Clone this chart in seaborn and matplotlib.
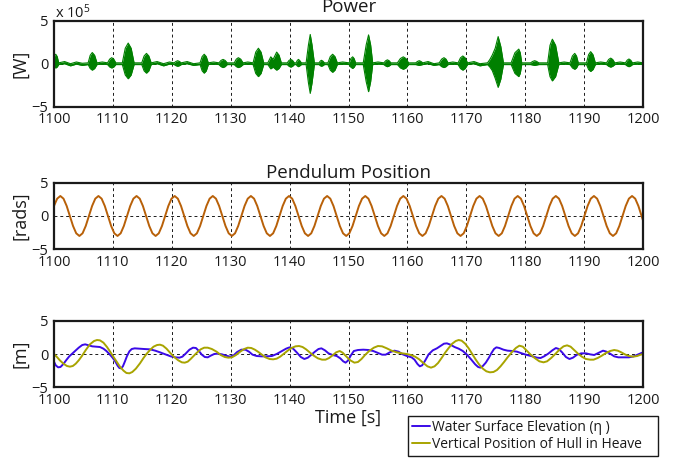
import numpy as np
import pandas as pd
import seaborn as sns
import matplotlib.pyplot as plt

# ---------------------------------------------------------------
# Data (time in s)
# ---------------------------------------------------------------
time_ticks = list(range(1100, 1201, 10))
y_ticks = [-5, 0, 5]

# Power [x 10^5 W]: envelope of the fast oscillation (upper / lower), one burst per row
power_t = [1100.0, 1100.3, 1100.55, 1100.8, 1101.8, 1102.8, 1103.8, 1104.8,
           1105.8, 1106.15, 1106.5, 1106.9, 1107.3, 1108.2,
           1109.1, 1109.45, 1109.8, 1110.15, 1110.5,
           1111.6, 1112.1, 1112.6, 1113.1, 1113.6,
           1114.9, 1115.3, 1115.7, 1116.1, 1116.5, 1117.5, 1118.6, 1119.6,
           1120.4, 1120.7, 1121.0, 1121.3, 1121.6, 1122.6, 1123.7,
           1124.8, 1125.15, 1125.5, 1125.85, 1126.2, 1127.1,
           1128.0, 1128.35, 1128.7, 1129.05, 1129.4,
           1130.6, 1130.95, 1131.3, 1131.7, 1132.1, 1132.9,
           1133.8, 1134.25, 1134.7, 1135.15, 1135.6,
           1136.3, 1136.8, 1137.2, 1137.8, 1138.2, 1138.6,
           1139.6, 1139.9, 1140.2, 1140.5, 1140.8,
           1141.1, 1141.3, 1141.5, 1141.7, 1142.0,
           1142.8, 1143.2, 1143.5, 1143.8, 1144.2,
           1145.0, 1145.2, 1145.4, 1145.65, 1145.9,
           1146.5, 1146.9, 1147.3, 1147.7, 1148.1, 1149.0,
           1150.1, 1150.4, 1150.7, 1150.95, 1151.2,
           1152.5, 1153.0, 1153.4, 1153.75, 1154.1, 1155.0,
           1156.0, 1156.3, 1156.6, 1156.9, 1157.2,
           1158.3, 1158.8, 1159.3, 1159.75, 1160.2,
           1161.4, 1161.7, 1162.0, 1162.3, 1162.6, 1163.5, 1164.5,
           1165.4, 1165.8, 1166.2, 1166.55, 1166.9, 1167.7,
           1168.6, 1169.0, 1169.4, 1169.8, 1170.2, 1171.3, 1172.3,
           1173.6, 1174.0, 1174.4, 1174.9, 1175.4, 1175.85, 1176.3,
           1177.6, 1178.25, 1178.9, 1179.15, 1179.4,
           1180.9, 1181.25, 1181.6, 1181.95, 1182.3,
           1183.8, 1184.2, 1184.6, 1185.15, 1185.7, 1186.6,
           1187.6, 1188.0, 1188.4, 1188.7, 1189.0,
           1190.4, 1190.75, 1191.1, 1191.5, 1191.9, 1192.8,
           1193.8, 1194.15, 1194.5, 1194.85, 1195.2, 1196.1,
           1197.0, 1197.3, 1197.6, 1197.9, 1198.2, 1199.1, 1200.0]
power_hi = [0.8, 1.1, 0.83, 0.1, 0.25, 0.0, 0.2, 0.05,
            0.1, 0.98, 1.3, 0.98, 0.1, 0.2,
            0.1, 0.53, 0.7, 0.53, 0.1,
            0.1, 1.8, 2.4, 1.8, 0.1,
            0.1, 0.9, 1.2, 0.9, 0.1, 0.25, 0.0, 0.2,
            0.1, 0.26, 0.35, 0.26, 0.1, 0.25, 0.0,
            0.1, 0.83, 1.1, 0.83, 0.1, 0.2,
            0.1, 0.38, 0.5, 0.38, 0.1,
            0.1, 0.53, 0.7, 0.53, 0.1, 0.2,
            0.1, 1.35, 1.8, 1.35, 0.1,
            0.1, 0.8, 0.5, 1.35, 1.0, 0.1,
            0.1, 0.38, 0.5, 0.38, 0.1,
            0.1, 0.38, 0.5, 0.38, 0.1,
            0.1, 2.2, 3.4, 2.2, 0.1,
            0.1, 0.3, 0.4, 0.3, 0.1,
            0.1, 0.83, 1.1, 0.83, 0.1, 0.2,
            0.1, 0.6, 0.8, 0.6, 0.1,
            0.1, 2.2, 3.35, 2.2, 0.1, 0.2,
            0.1, 0.34, 0.45, 0.34, 0.1,
            0.1, 0.6, 0.8, 0.6, 0.1,
            0.1, 0.26, 0.35, 0.26, 0.1, 0.25, 0.0,
            0.1, 0.53, 0.7, 0.53, 0.1, 0.2,
            0.1, 0.68, 0.9, 0.68, 0.1, 0.25, 0.0,
            0.1, 0.5, 1.0, 1.8, 3.15, 2.0, 0.1,
            0.1, 1.28, 1.7, 1.28, 0.1,
            0.1, 0.26, 0.35, 0.26, 0.1,
            0.1, 2.14, 2.85, 2.14, 0.1, 0.2,
            0.1, 0.9, 1.2, 0.9, 0.1,
            0.1, 1.05, 1.4, 1.05, 0.1, 0.2,
            0.1, 0.49, 0.65, 0.49, 0.1, 0.2,
            0.1, 0.41, 0.55, 0.41, 0.1, 0.2, 0.1]
power_lo = [-0.35, -0.5, -0.38, -0.1, 0.0, -0.25, -0.05, -0.2,
            -0.1, -0.56, -0.75, -0.56, -0.1, -0.05,
            -0.1, -0.38, -0.5, -0.38, -0.1,
            -0.1, -1.31, -1.75, -1.31, -0.1,
            -0.1, -0.83, -1.1, -0.83, -0.1, 0.0, -0.25, -0.05,
            -0.1, -0.23, -0.3, -0.23, -0.1, 0.0, -0.2,
            -0.1, -0.83, -1.1, -0.83, -0.1, -0.05,
            -0.1, -0.34, -0.45, -0.34, -0.1,
            -0.1, -0.34, -0.45, -0.34, -0.1, -0.05,
            -0.1, -1.13, -1.5, -1.13, -0.1,
            -0.1, -0.6, -0.4, -0.75, -0.56, -0.1,
            -0.1, -0.3, -0.4, -0.3, -0.1,
            -0.1, -0.26, -0.35, -0.26, -0.1,
            -0.1, -2.25, -3.45, -2.25, -0.1,
            -0.1, -0.23, -0.3, -0.23, -0.1,
            -0.1, -0.75, -1.0, -0.75, -0.1, -0.05,
            -0.1, -0.41, -0.55, -0.41, -0.1,
            -0.1, -2.1, -3.25, -2.1, -0.1, -0.05,
            -0.1, -0.26, -0.35, -0.26, -0.1,
            -0.1, -0.49, -0.65, -0.49, -0.1,
            -0.1, -0.15, -0.2, -0.15, -0.1, 0.0, -0.2,
            -0.1, -0.34, -0.45, -0.34, -0.1, -0.05,
            -0.1, -0.56, -0.75, -0.56, -0.1, 0.0, -0.25,
            -0.1, -0.4, -0.8, -1.7, -2.75, -1.8, -0.1,
            -0.1, -1.13, -1.5, -1.13, -0.1,
            -0.1, -0.15, -0.2, -0.15, -0.1,
            -0.1, -1.5, -2.0, -1.5, -0.1, -0.05,
            -0.1, -0.49, -0.65, -0.49, -0.1,
            -0.1, -0.68, -0.9, -0.68, -0.1, -0.05,
            -0.1, -0.3, -0.4, -0.3, -0.1, -0.05,
            -0.1, -0.26, -0.35, -0.26, -0.1, -0.05, -0.1]

# Pendulum position [rads], sampled every 1/12 of its ~6.47 s period
pend_step = 6.47 / 12
pend_t = 1100 + pend_step * np.arange(187)
pend_v = [1.5, 2.6, 3.0, 2.6, 1.5, 0.0, -1.5, -2.6, -3.0, -2.6, -1.5, 0.0] * 15 + \
         [1.5, 2.6, 3.0, 2.6, 1.5, 0.0, -1.5]

# Water surface elevation [m]
wave_t = [1100.0, 1100.3, 1100.7, 1101.1, 1101.6, 1102.1, 1102.6, 1103.1, 1103.6,
          1104.2, 1104.8, 1105.3, 1105.9, 1106.5, 1107.2, 1107.8, 1108.4, 1108.9,
          1109.4, 1109.9, 1110.4, 1110.8, 1111.1, 1111.4, 1111.7, 1112.05, 1112.4,
          1112.8, 1113.2, 1113.7, 1114.4, 1115.3, 1116.3, 1117.2, 1118.0, 1118.9,
          1119.8, 1120.6, 1121.3, 1121.8, 1122.4, 1123.0, 1123.6, 1124.1, 1124.6,
          1125.1, 1125.6, 1126.1, 1126.6, 1127.2, 1127.8, 1128.5, 1129.2, 1129.9,
          1130.5, 1131.1, 1131.8, 1132.5, 1133.1, 1133.7, 1134.4, 1135.2, 1136.1,
          1137.0, 1137.8, 1138.6, 1139.4, 1140.0, 1140.6, 1141.2, 1141.9, 1142.5,
          1143.1, 1143.7, 1144.3, 1144.9, 1145.4, 1146.0, 1146.6, 1147.3, 1148.0,
          1148.6, 1149.1, 1149.5, 1149.9, 1150.4, 1150.9, 1151.6, 1152.5, 1153.4,
          1154.2, 1155.0, 1155.7, 1156.3, 1157.1, 1157.8, 1158.5, 1159.2, 1159.9,
          1160.7, 1161.2, 1161.7, 1162.1, 1162.5, 1163.0, 1163.6, 1164.3, 1165.0,
          1165.6, 1166.2, 1166.7, 1167.3, 1168.0, 1168.7, 1169.4, 1170.1, 1170.8,
          1171.5, 1172.0, 1172.4, 1172.8, 1173.3, 1173.8, 1174.3, 1174.7, 1175.1,
          1175.6, 1176.3, 1177.0, 1177.8, 1178.6, 1179.4, 1180.3, 1181.2, 1182.0,
          1182.6, 1183.2, 1183.9, 1184.6, 1185.2, 1185.7, 1186.3, 1186.9, 1187.5,
          1188.1, 1188.8, 1189.5, 1190.3, 1191.0, 1191.7, 1192.4, 1193.2, 1193.8,
          1194.4, 1195.1, 1195.8, 1196.7, 1197.6, 1198.4, 1199.2, 1200.0]
wave_v = [-1.15, -1.7, -2.0, -1.95, -1.5, -0.9, -0.35, 0.05, 0.45,
          0.95, 1.35, 1.45, 1.3, 1.15, 1.1, 1.05, 0.8, 0.45,
          0.0, -0.5, -1.1, -1.75, -2.1, -2.15, -1.85, -1.1, -0.3,
          0.4, 0.75, 0.85, 0.8, 0.75, 0.7, 0.5, 0.25, -0.05,
          -0.35, -0.5, -0.55, -0.4, 0.1, 0.65, 0.95, 0.9, 0.45,
          -0.1, -0.45, -0.5, -0.25, 0.0, 0.05, -0.05, -0.25, -0.4,
          -0.2, 0.3, 0.65, 0.65, 0.35, -0.1, -0.3, -0.35, -0.35,
          -0.3, 0.0, 0.4, 0.8, 1.0, 0.8, 0.25, -0.45, -0.75,
          -0.55, -0.1, 0.35, 0.75, 0.85, 0.55, 0.1, -0.15, -0.3,
          -0.65, -1.1, -1.3, -1.0, -0.2, 0.45, 0.6, 0.65, 0.6,
          0.45, 0.15, -0.1, -0.1, 0.3, 0.5, 0.35, -0.05, -0.3,
          -0.5, -0.85, -1.5, -1.85, -1.7, -1.0, -0.05, 0.55, 0.85,
          1.2, 1.55, 1.6, 1.4, 1.05, 0.8, 0.45, -0.1, -0.8,
          -1.55, -1.95, -2.05, -1.8, -1.3, -0.6, 0.2, 0.75, 1.0,
          0.9, 0.65, 0.5, 0.45, 0.35, 0.1, -0.15, -0.35, -0.55,
          -0.6, -0.35, 0.05, 0.55, 0.9, 0.75, 0.2, -0.45, -0.75,
          -0.55, -0.1, 0.1, 0.1, -0.05, -0.15, 0.15, 0.5, 0.35,
          0.05, -0.35, -0.5, -0.5, -0.5, -0.35, -0.05, 0.25]

# Vertical position of hull in heave [m]
hull_t = [1100.0, 1100.5, 1101.0, 1101.6, 1102.2, 1102.7, 1103.2, 1103.7, 1104.2,
          1104.7, 1105.4, 1106.1, 1106.8, 1107.3, 1107.8, 1108.4, 1109.0, 1109.5,
          1110.0, 1110.6, 1111.2, 1111.8, 1112.3, 1112.8, 1113.3, 1113.9, 1114.6,
          1115.2, 1115.7, 1116.3, 1116.9, 1117.5, 1118.0, 1118.5, 1119.1, 1119.7,
          1120.4, 1121.1, 1121.7, 1122.2, 1122.7, 1123.2, 1123.7, 1124.2, 1124.9,
          1125.5, 1126.1, 1126.8, 1127.6, 1128.3, 1129.0, 1129.6, 1130.2, 1130.9,
          1131.6, 1132.3, 1132.9, 1133.5, 1134.1, 1134.7, 1135.3, 1135.9, 1136.6,
          1137.2, 1137.8, 1138.4, 1138.9, 1139.6, 1140.3, 1141.0, 1141.6, 1142.2,
          1142.8, 1143.4, 1144.1, 1144.8, 1145.5, 1146.1, 1146.7, 1147.3, 1147.9,
          1148.5, 1149.0, 1149.6, 1150.3, 1151.0, 1151.6, 1152.2, 1152.8, 1153.5,
          1154.3, 1155.0, 1155.7, 1156.5, 1157.3, 1158.2, 1159.1, 1159.9, 1160.6,
          1161.3, 1162.0, 1162.7, 1163.4, 1164.0, 1164.6, 1165.2, 1165.8, 1166.4,
          1167.0, 1167.6, 1168.2, 1168.7, 1169.2, 1169.8, 1170.4, 1171.0, 1171.6,
          1172.2, 1172.8, 1173.4, 1174.0, 1174.6, 1175.2, 1175.8, 1176.4, 1177.0,
          1177.7, 1178.4, 1179.0, 1179.6, 1180.2, 1180.8, 1181.6, 1182.4, 1183.1,
          1183.7, 1184.4, 1185.1, 1185.8, 1186.5, 1187.1, 1187.7, 1188.3, 1188.9,
          1189.6, 1190.3, 1191.0, 1191.6, 1192.3, 1193.0, 1193.7, 1194.4, 1195.1,
          1195.7, 1196.3, 1196.9, 1197.6, 1198.3, 1199.0, 1199.6, 1200.0]
hull_v = [0.0, -0.45, -0.95, -1.45, -1.8, -1.9, -1.8, -1.45, -0.95,
          -0.35, 0.6, 1.45, 1.95, 2.1, 2.05, 1.7, 1.05, 0.4,
          -0.3, -1.1, -1.9, -2.5, -2.85, -2.9, -2.7, -2.2, -1.4,
          -0.6, 0.0, 0.6, 1.1, 1.35, 1.4, 1.25, 0.8, 0.2,
          -0.45, -0.95, -1.25, -1.3, -1.15, -0.75, -0.3, 0.15, 0.7,
          0.95, 0.95, 0.75, 0.35, -0.15, -0.45, -0.55, -0.5, -0.15,
          0.35, 0.75, 0.95, 0.9, 0.65, 0.3, -0.1, -0.5, -0.75,
          -0.8, -0.7, -0.4, -0.05, 0.45, 0.9, 1.15, 1.2, 1.05,
          0.7, 0.25, -0.25, -0.65, -0.85, -0.85, -0.6, -0.2, 0.25,
          0.45, 0.2, -0.35, -0.95, -1.3, -1.2, -0.75, -0.15, 0.45,
          0.95, 1.2, 1.15, 0.85, 0.5, 0.25, 0.1, 0.0, -0.15,
          -0.4, -0.8, -1.35, -1.85, -2.05, -1.85, -1.35, -0.6, 0.2,
          0.9, 1.55, 1.95, 2.1, 2.0, 1.55, 0.85, 0.0, -0.85,
          -1.6, -2.2, -2.6, -2.75, -2.7, -2.4, -1.85, -1.2, -0.5,
          0.25, 0.9, 1.25, 1.1, 0.55, 0.0, -0.6, -1.1, -1.25,
          -1.1, -0.6, 0.0, 0.65, 1.15, 1.3, 1.1, 0.6, 0.1,
          -0.4, -0.75, -0.85, -0.85, -0.6, -0.25, 0.15, 0.45, 0.6,
          0.5, 0.25, -0.05, -0.3, -0.4, -0.3, -0.1, 0.0]

# ---------------------------------------------------------------
# Style
# ---------------------------------------------------------------
sns.set_theme(style='white', rc={'text.color': 'k', 'axes.labelcolor': 'k',
                                 'xtick.color': 'k', 'ytick.color': 'k',
                                 'axes.edgecolor': 'k'})
plt.rcParams['font.family'] = ['Open Sans', 'DejaVu Sans']
plt.rcParams['mathtext.fontset'] = 'custom'
plt.rcParams['mathtext.rm'] = 'Open Sans'
plt.rcParams['mathtext.default'] = 'regular'

fig = plt.figure(figsize=(6.85, 4.59), dpi=100)
ax1 = fig.add_axes([0.0788, 0.7675, 0.86, 0.1874])
ax2 = fig.add_axes([0.0788, 0.4569, 0.86, 0.1451])
ax3 = fig.add_axes([0.0788, 0.1562, 0.86, 0.1451])


def style_axes(ax, ylabel):
    ax.set_xlim(1100, 1200)
    ax.set_ylim(-5, 5)
    ax.set_xticks(time_ticks)
    ax.set_yticks(y_ticks)
    ax.grid(True, linestyle=(0, (3, 3)), color='k', linewidth=0.7)
    for s in ax.spines.values():
        s.set_color('k')
        s.set_linewidth(1.6)
    ax.tick_params(direction='in', length=3, width=0.8, labelsize=10.5, pad=4)
    ax.set_xlabel('')
    ax.set_ylabel(ylabel, fontsize=13)
    ax.yaxis.set_label_coords(-0.042, 0.5)


# Power
green = '#008000'
ax1.fill_between(power_t, power_lo, power_hi, color=green, linewidth=0, zorder=2)
sns.lineplot(x=power_t, y=power_hi, ax=ax1, color=green, linewidth=0.8)
sns.lineplot(x=power_t, y=power_lo, ax=ax1, color=green, linewidth=0.8)
style_axes(ax1, '[W]')
ax1.set_title('Power', fontsize=13.5, pad=6.5)
ax1.text(0.002, 1.03, r'x 10$^{5}$', transform=ax1.transAxes, fontsize=10.5,
         ha='left', va='baseline')

# Pendulum
sns.lineplot(x=pend_t, y=pend_v, ax=ax2, color='#b86008', linewidth=1.4)
style_axes(ax2, '[rads]')
ax2.set_title('Pendulum Position', fontsize=13.5, pad=3.2)

# Heave
sns.lineplot(x=wave_t, y=wave_v, ax=ax3, color='#3a0ae8', linewidth=1.4, sort=False,
             label='Water Surface Elevation (\u03b7 )')
sns.lineplot(x=hull_t, y=hull_v, ax=ax3, color='#a8a400', linewidth=1.4, sort=False,
             label='Vertical Position of Hull in Heave')
style_axes(ax3, '[m]')
ax3.set_xlabel('Time [s]', fontsize=13, labelpad=1)

# legend box spans x 408..658 px, top at y 416 px
leg = ax3.legend(loc='upper left',
                 bbox_to_anchor=(408 / 685, 1 - 457 / 459, 250 / 685, 41 / 459),
                 bbox_transform=fig.transFigure, mode='expand', frameon=True,
                 fancybox=False, edgecolor='k', framealpha=1, fontsize=10,
                 handlelength=1.3, handletextpad=0.15, borderpad=0.3,
                 labelspacing=0.15, borderaxespad=0)
leg.get_frame().set_linewidth(1.0)

fig.savefig('out.png', dpi=100)
